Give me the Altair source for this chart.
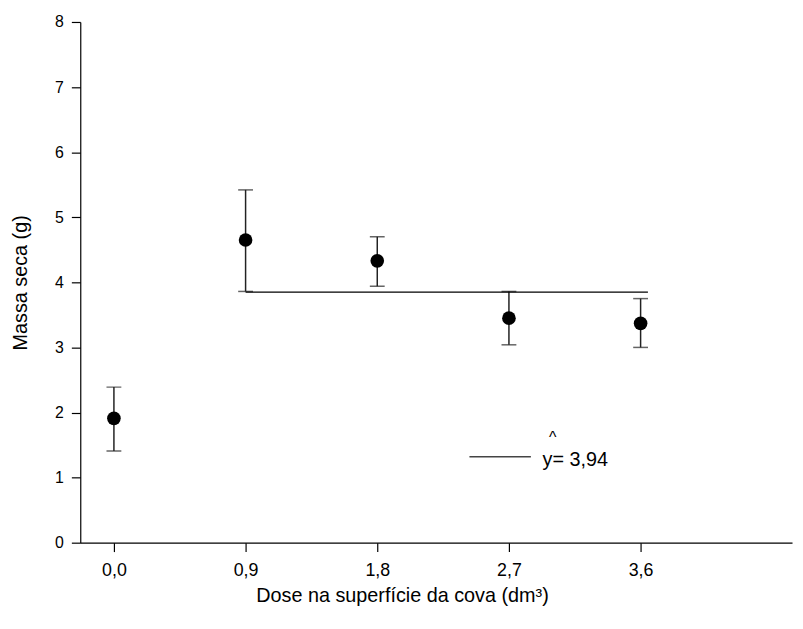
import altair as alt
import pandas as pd

dose = [0.0, 0.9, 1.8, 2.7, 3.6]
massa = [1.91, 4.65, 4.33, 3.45, 3.37]
err_low = [1.41, 3.86, 3.94, 3.04, 3.00]
err_high = [2.39, 5.42, 4.70, 3.86, 3.75]

reg_x = [0.9, 3.65]
reg_y = 3.85

leg_x = [2.43, 2.85]
leg_y = 1.32
leg_text = "y= 3,94"

df = pd.DataFrame({"dose": dose, "massa": massa, "lo": err_low, "hi": err_high})
reg = pd.DataFrame({"x": [reg_x[0]], "x2": [reg_x[1]], "y": [reg_y]})
leg = pd.DataFrame({"x": [leg_x[0]], "x2": [leg_x[1]], "y": [leg_y]})
legt = pd.DataFrame({"x": [2.93], "y": [leg_y], "t": [leg_text]})
hat = pd.DataFrame({"x": [3.0], "y": [leg_y], "t": ["^"]})

FONT = "Liberation Sans"
xdom = [-0.23, 4.635]
ydom = [0, 8]

xs = alt.Scale(domain=xdom, nice=False, zero=False)
ys = alt.Scale(domain=ydom, nice=False)

xaxis = alt.Axis(values=dose, labelExpr="replace(format(datum.value, '.1f'), '.', ',')",
                 title="Dose na superfície da cova (dm³)", grid=False, labelFontSize=18,
                 tickSize=9, labelPadding=10, titleX=325, titleY=43)
yaxis = alt.Axis(values=list(range(0, 9)), format="d", title="Massa seca (g)", grid=False,
                 tickSize=9, labelPadding=8, titlePadding=24)

base = alt.Chart(df)

bars = base.mark_rule(color="#222", strokeWidth=1.5).encode(
    x=alt.X("dose:Q", scale=xs, axis=xaxis),
    y=alt.Y("lo:Q", scale=ys, axis=yaxis),
    y2="hi:Q",
)
cap_lo = base.mark_tick(color="#222", orient="horizontal", size=15, thickness=1.5).encode(
    x=alt.X("dose:Q", scale=xs), y=alt.Y("lo:Q", scale=ys))
cap_hi = base.mark_tick(color="#222", orient="horizontal", size=15, thickness=1.5).encode(
    x=alt.X("dose:Q", scale=xs), y=alt.Y("hi:Q", scale=ys))
pts = base.mark_circle(color="black", opacity=1, size=190).encode(
    x=alt.X("dose:Q", scale=xs), y=alt.Y("massa:Q", scale=ys))

regline = alt.Chart(reg).mark_rule(color="black", strokeWidth=1.3).encode(
    x=alt.X("x:Q", scale=xs), x2="x2:Q", y=alt.Y("y:Q", scale=ys))
legline = alt.Chart(leg).mark_rule(color="#444", strokeWidth=1.3).encode(
    x=alt.X("x:Q", scale=xs), x2="x2:Q", y=alt.Y("y:Q", scale=ys))
legtext = alt.Chart(legt).mark_text(font=FONT, fontSize=20, align="left", baseline="middle", dy=3).encode(
    x=alt.X("x:Q", scale=xs), y=alt.Y("y:Q", scale=ys), text="t:N")
hattext = alt.Chart(hat).mark_text(font=FONT, fontSize=16, align="center", baseline="middle", dy=-19).encode(
    x=alt.X("x:Q", scale=xs), y=alt.Y("y:Q", scale=ys), text="t:N")

chart = alt.layer(bars, cap_lo, cap_hi, pts, regline, legline, legtext, hattext).properties(
    width=719, height=526,
    background="white",
    autosize=alt.AutoSizeParams(type="none"),
    padding={"left": 73, "top": 11, "right": 3, "bottom": 76},
).configure_view(stroke=None).configure_axis(
    domainColor="black", tickColor="black", labelColor="black", titleColor="black",
    labelFont=FONT, titleFont=FONT, labelFontSize=16, titleFontSize=20,
    titleFontWeight="normal", domainWidth=1.2, tickWidth=1.2,
)

chart.save("out.html", embed_options={"renderer": "svg", "actions": False})
